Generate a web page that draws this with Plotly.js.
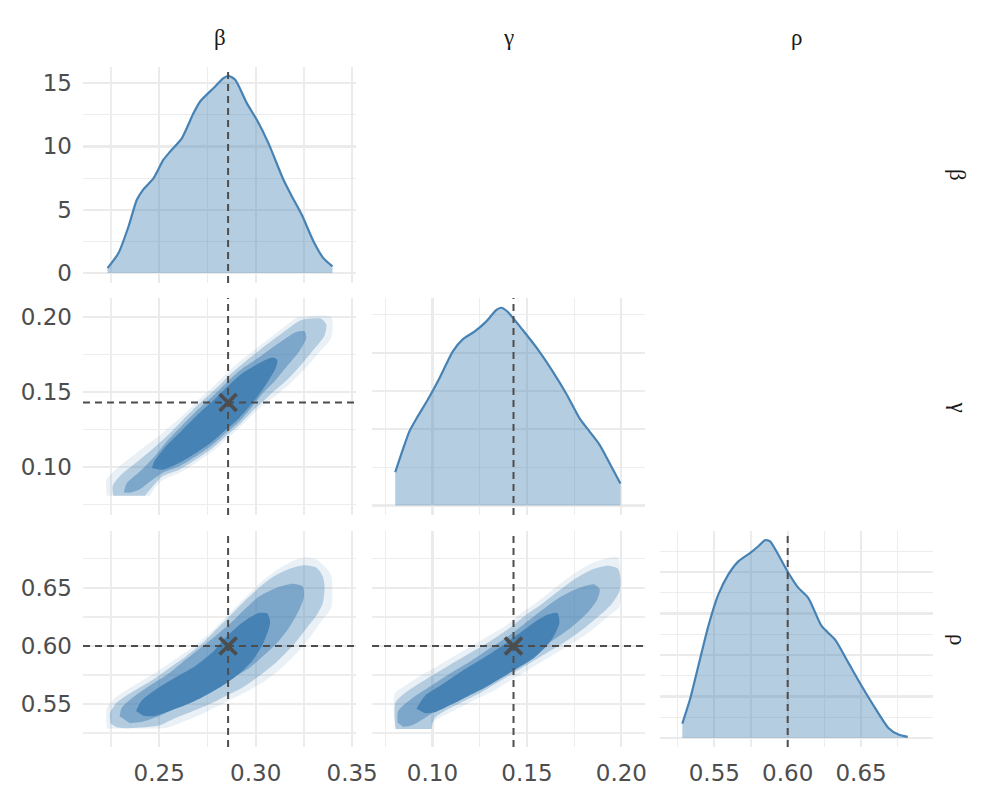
<!DOCTYPE html>
<html>
<head>
<meta charset="utf-8">
<script src="https://cdn.plot.ly/plotly-3.0.1.min.js"></script>
<style>
  body { margin: 0; background: #fff; }
  #corner { width: 1000px; height: 800px; }
</style>
</head>
<body>
<div id="corner"></div>
<script>
// parameter names and the values the samples were simulated from
var paramNames = ['β', 'γ', 'ρ'];
var trueValues = [0.2857, 0.1429, 0.60];

// marginal densities
var betaGrid = [0.2232, 0.2289, 0.2341, 0.2384, 0.2419, 0.2471, 0.2522, 0.2557, 0.2618, 0.2678, 0.2712, 0.2781, 0.2833, 0.2859, 0.2894, 0.2954, 0.3006, 0.3066, 0.3144, 0.3188, 0.3239, 0.3300, 0.3351, 0.3398];
var betaDens = [0.39, 1.58, 3.68, 5.79, 6.63, 7.5, 8.95, 9.6, 10.66, 12.63, 13.55, 14.6, 15.39, 15.58, 15.26, 13.42, 12.1, 10.26, 7.37, 6.05, 4.6, 2.5, 1.18, 0.53];

var gammaGrid = [0.0803, 0.0843, 0.0878, 0.0922, 0.0975, 0.1037, 0.1107, 0.1160, 0.1222, 0.1284, 0.1337, 0.1363, 0.1398, 0.1478, 0.1566, 0.1637, 0.1707, 0.1778, 0.1831, 0.1884, 0.1937, 0.1995];
var gammaDens = [2.18, 3.66, 4.86, 5.84, 6.93, 8.34, 10.09, 10.89, 11.39, 12.05, 12.81, 12.96, 12.7, 11.5, 10.09, 8.78, 7.36, 5.73, 4.86, 3.99, 2.79, 1.44];

var rhoGrid = [0.5282, 0.5334, 0.5402, 0.5459, 0.5527, 0.5595, 0.5664, 0.5743, 0.5800, 0.5845, 0.5880, 0.5936, 0.6005, 0.6073, 0.6141, 0.6232, 0.6323, 0.6414, 0.6505, 0.6595, 0.6686, 0.6755, 0.6818];
var rhoDens = [0.86, 2.31, 4.72, 6.73, 8.63, 9.84, 10.64, 11.14, 11.55, 11.91, 11.85, 11.04, 9.94, 9.04, 8.43, 6.73, 5.92, 4.52, 3.11, 1.81, 0.60, 0.20, 0.06];

// 2d density regions, outermost level first
var bgBeta = [
  [0.2228, 0.2228, 0.2297, 0.2383, 0.2469, 0.2538, 0.2621, 0.2707, 0.2793, 0.2862, 0.2931, 0.3017, 0.3107, 0.3184, 0.3219, 0.3391, 0.3391, 0.3331, 0.3262, 0.3176, 0.3090, 0.3003, 0.2914, 0.2845, 0.2776, 0.2690, 0.2603, 0.2517, 0.2478, 0.2452],
  [0.2262, 0.2259, 0.2305, 0.2391, 0.2474, 0.2538, 0.2621, 0.2707, 0.2793, 0.2862, 0.2931, 0.3017, 0.3107, 0.3184, 0.3236, 0.3271, 0.3340, 0.3366, 0.3357, 0.3305, 0.3236, 0.3159, 0.3072, 0.2986, 0.2914, 0.2845, 0.2776, 0.2690, 0.2603, 0.2517, 0.2469, 0.2426],
  [0.2317, 0.2331, 0.2400, 0.2474, 0.2538, 0.2621, 0.2707, 0.2793, 0.2862, 0.2931, 0.3017, 0.3107, 0.3184, 0.3224, 0.3253, 0.3262, 0.3228, 0.3162, 0.3098, 0.3038, 0.2983, 0.2914, 0.2845, 0.2776, 0.2690, 0.2603, 0.2517, 0.2452, 0.2400, 0.2348],
  [0.2462, 0.2517, 0.2603, 0.2690, 0.2776, 0.2845, 0.2914, 0.2983, 0.3052, 0.3103, 0.3112, 0.3086, 0.3017, 0.2931, 0.2862, 0.2793, 0.2707, 0.2621, 0.2534, 0.2474]
];
var bgGamma = [
  [0.0808, 0.0918, 0.1007, 0.1095, 0.1177, 0.1250, 0.1341, 0.1451, 0.1551, 0.1639, 0.1717, 0.1803, 0.1892, 0.1969, 0.1996, 0.1996, 0.1858, 0.1765, 0.1664, 0.1553, 0.1460, 0.1372, 0.1259, 0.1181, 0.1104, 0.1027, 0.0960, 0.0912, 0.0863, 0.0808],
  [0.0808, 0.0874, 0.0951, 0.1040, 0.1128, 0.1204, 0.1310, 0.1420, 0.1520, 0.1608, 0.1686, 0.1774, 0.1863, 0.1936, 0.1978, 0.1987, 0.1987, 0.1947, 0.1876, 0.1788, 0.1681, 0.1575, 0.1478, 0.1376, 0.1281, 0.1204, 0.1126, 0.1049, 0.0982, 0.0938, 0.0874, 0.0808],
  [0.0830, 0.0889, 0.0969, 0.1066, 0.1168, 0.1279, 0.1389, 0.1489, 0.1577, 0.1655, 0.1730, 0.1814, 0.1881, 0.1903, 0.1903, 0.1858, 0.1774, 0.1670, 0.1571, 0.1493, 0.1403, 0.1303, 0.1226, 0.1148, 0.1071, 0.1004, 0.0960, 0.0903, 0.0852, 0.0828],
  [0.0993, 0.0982, 0.1027, 0.1093, 0.1170, 0.1248, 0.1325, 0.1425, 0.1546, 0.1657, 0.1712, 0.1728, 0.1690, 0.1624, 0.1546, 0.1458, 0.1358, 0.1248, 0.1137, 0.1038]
];

var brBeta = [
  [0.2228, 0.2228, 0.2262, 0.2331, 0.2417, 0.2503, 0.2590, 0.2676, 0.2762, 0.2831, 0.2900, 0.2969, 0.3038, 0.3124, 0.3210, 0.3262, 0.3314, 0.3366, 0.3391, 0.3391, 0.3348, 0.3297, 0.3228, 0.3141, 0.3055, 0.2969, 0.2883, 0.2797, 0.2710, 0.2624, 0.2538, 0.2503],
  [0.2248, 0.2245, 0.2279, 0.2366, 0.2469, 0.2555, 0.2641, 0.2728, 0.2797, 0.2866, 0.2934, 0.3003, 0.3090, 0.3176, 0.3253, 0.3314, 0.3348, 0.3357, 0.3348, 0.3314, 0.3262, 0.3193, 0.3107, 0.3021, 0.2934, 0.2848, 0.2762, 0.2659, 0.2572, 0.2503, 0.2417, 0.2331, 0.2279],
  [0.2295, 0.2305, 0.2366, 0.2452, 0.2555, 0.2641, 0.2728, 0.2814, 0.2883, 0.2952, 0.3021, 0.3107, 0.3193, 0.3245, 0.3250, 0.3225, 0.3170, 0.3107, 0.3038, 0.2969, 0.2883, 0.2797, 0.2693, 0.2590, 0.2503, 0.2417, 0.2348],
  [0.2380, 0.2409, 0.2486, 0.2590, 0.2693, 0.2779, 0.2831, 0.2900, 0.2969, 0.3021, 0.3060, 0.3075, 0.3038, 0.2986, 0.2917, 0.2848, 0.2762, 0.2659, 0.2555, 0.2469, 0.2417]
];
var brRho = [
  [0.5290, 0.5460, 0.5540, 0.5620, 0.5707, 0.5793, 0.5894, 0.5994, 0.6109, 0.6224, 0.6339, 0.6454, 0.6565, 0.6670, 0.6745, 0.6765, 0.6745, 0.6670, 0.6612, 0.6325, 0.6230, 0.6110, 0.5966, 0.5822, 0.5707, 0.5621, 0.5549, 0.5477, 0.5406, 0.5348, 0.5295, 0.5290],
  [0.5333, 0.5420, 0.5510, 0.5610, 0.5712, 0.5813, 0.5914, 0.6029, 0.6143, 0.6258, 0.6373, 0.6480, 0.6595, 0.6665, 0.6695, 0.6675, 0.6598, 0.6511, 0.6370, 0.6260, 0.6150, 0.6003, 0.5860, 0.5745, 0.5644, 0.5572, 0.5500, 0.5429, 0.5371, 0.5318, 0.5300, 0.5292, 0.5300],
  [0.5395, 0.5465, 0.5560, 0.5660, 0.5770, 0.5887, 0.6002, 0.6117, 0.6218, 0.6330, 0.6430, 0.6500, 0.6535, 0.6510, 0.6420, 0.6310, 0.6150, 0.6020, 0.5914, 0.5813, 0.5727, 0.5641, 0.5554, 0.5468, 0.5400, 0.5350, 0.5335],
  [0.5440, 0.5530, 0.5630, 0.5735, 0.5835, 0.5950, 0.6050, 0.6160, 0.6245, 0.6285, 0.6280, 0.6200, 0.6020, 0.5880, 0.5764, 0.5678, 0.5592, 0.5506, 0.5440, 0.5395, 0.5400]
];

var grGamma = [
  [0.0801, 0.0801, 0.0871, 0.0960, 0.1065, 0.1171, 0.1276, 0.1382, 0.1470, 0.1558, 0.1646, 0.1734, 0.1822, 0.1910, 0.1981, 0.1989, 0.1989, 0.1928, 0.1857, 0.1769, 0.1681, 0.1593, 0.1505, 0.1417, 0.1329, 0.1241, 0.1153, 0.1065, 0.0995, 0.0995],
  [0.0805, 0.0805, 0.0871, 0.0977, 0.1083, 0.1188, 0.1294, 0.1400, 0.1488, 0.1576, 0.1664, 0.1752, 0.1840, 0.1928, 0.1981, 0.1995, 0.1989, 0.1945, 0.1875, 0.1787, 0.1699, 0.1611, 0.1523, 0.1435, 0.1347, 0.1259, 0.1171, 0.1083, 0.1012, 0.0995],
  [0.0815, 0.0819, 0.0889, 0.0995, 0.1100, 0.1206, 0.1312, 0.1417, 0.1505, 0.1593, 0.1681, 0.1769, 0.1857, 0.1885, 0.1872, 0.1820, 0.1734, 0.1646, 0.1558, 0.1470, 0.1382, 0.1294, 0.1206, 0.1118, 0.1030, 0.0960, 0.0889, 0.0845],
  [0.0915, 0.0960, 0.1048, 0.1153, 0.1259, 0.1364, 0.1452, 0.1540, 0.1611, 0.1660, 0.1672, 0.1625, 0.1540, 0.1452, 0.1364, 0.1276, 0.1188, 0.1100, 0.1012, 0.0960]
];
var grRho = [
  [0.5284, 0.5590, 0.5675, 0.5764, 0.5865, 0.5965, 0.6066, 0.6167, 0.6282, 0.6382, 0.6497, 0.6605, 0.6695, 0.6750, 0.6765, 0.6727, 0.6340, 0.6253, 0.6153, 0.6052, 0.5966, 0.5880, 0.5793, 0.5707, 0.5621, 0.5549, 0.5477, 0.5406, 0.5334, 0.5284],
  [0.5284, 0.5515, 0.5615, 0.5725, 0.5827, 0.5928, 0.6029, 0.6143, 0.6258, 0.6359, 0.6470, 0.6575, 0.6655, 0.6690, 0.6665, 0.6583, 0.6470, 0.6355, 0.6250, 0.6133, 0.6032, 0.5946, 0.5860, 0.5773, 0.5687, 0.5601, 0.5529, 0.5457, 0.5380, 0.5284],
  [0.5342, 0.5440, 0.5545, 0.5660, 0.5770, 0.5873, 0.5988, 0.6103, 0.6215, 0.6325, 0.6425, 0.6495, 0.6530, 0.6490, 0.6400, 0.6285, 0.6158, 0.6057, 0.5971, 0.5885, 0.5799, 0.5712, 0.5626, 0.5540, 0.5454, 0.5380, 0.5315, 0.5305],
  [0.5460, 0.5570, 0.5665, 0.5780, 0.5885, 0.5995, 0.6100, 0.6205, 0.6270, 0.6285, 0.6200, 0.6040, 0.5900, 0.5810, 0.5725, 0.5640, 0.5568, 0.5496, 0.5430, 0.5420]
];

var levelFills = ['rgba(70,130,180,0.12)', 'rgba(70,130,180,0.33)', 'rgba(70,130,180,0.5)', 'rgba(70,130,180,1)'];
var steel = '#4682b4';
var ink = '#4d4d4d';

var data = [];

function density(xs, ys, ax) {
    data.push({
        x: xs, y: ys,
        xaxis: 'x' + ax, yaxis: 'y' + ax,
        mode: 'lines', type: 'scatter',
        line: {color: steel, width: 2.2, shape: 'spline', smoothing: 0.6},
        fill: 'tozeroy', fillcolor: 'rgba(70,130,180,0.4)',
        hoverinfo: 'skip'
    });
}

function regions(xs, ys, ax) {
    for (var k = 0; k < xs.length; k++) {
        data.push({
            x: xs[k], y: ys[k],
            xaxis: 'x' + ax, yaxis: 'y' + ax,
            mode: 'lines', type: 'scatter',
            line: {width: 0, shape: 'spline', smoothing: 0.7},
            fill: 'toself', fillcolor: levelFills[k],
            hoverinfo: 'skip'
        });
    }
}

function cross(px, py, ax) {
    data.push({
        x: [trueValues[px]], y: [trueValues[py]],
        xaxis: 'x' + ax, yaxis: 'y' + ax,
        mode: 'markers', type: 'scatter',
        marker: {symbol: 'x-thin-open', size: 17, color: ink, line: {color: ink, width: 3.8}},
        hoverinfo: 'skip'
    });
}

density(betaGrid, betaDens, 1);
regions(bgBeta, bgGamma, 2);
density(gammaGrid, gammaDens, 3);
regions(brBeta, brRho, 4);
regions(grGamma, grRho, 5);
density(rhoGrid, rhoDens, 6);

// dashed reference lines: [axis, parameter, vertical?]
var refLines = [[1, 0, true], [2, 0, true], [4, 0, true], [2, 1, false], [3, 1, true], [5, 1, true], [4, 2, false], [5, 2, false], [6, 2, true]];
var shapes = refLines.map(function (r) {
    var ax = r[0] === 1 ? '' : r[0];
    var v = trueValues[r[1]];
    var s = {type: 'line', layer: 'above', line: {color: ink, width: 2, dash: '7px,5px'}};
    if (r[2]) {
        s.xref = 'x' + ax; s.yref = 'y' + ax + ' domain';
        s.x0 = v; s.x1 = v; s.y0 = 0; s.y1 = 1;
    } else {
        s.xref = 'x' + ax + ' domain'; s.yref = 'y' + ax;
        s.x0 = 0; s.x1 = 1; s.y0 = v; s.y1 = v;
    }
    return s;
});

cross(0, 1, 2);
cross(0, 2, 4);
cross(1, 2, 5);

var cols = [[0.083, 0.356], [0.372, 0.645], [0.660, 0.933]];
var rows = [[0.64625, 0.91625], [0.35625, 0.6275], [0.06625, 0.33625]];

var betaRange = [0.2105, 0.352];
var gammaRange = [0.068, 0.2125];
var rhoRange = [0.513, 0.699];

function axis(domain, range, anchor, dtick, fmt, labels) {
    return {
        domain: domain, range: range, anchor: anchor,
        showgrid: true, gridcolor: '#ebebeb', gridwidth: 2.2,
        zeroline: false, showline: false, ticks: '',
        tick0: 0, dtick: dtick, tickformat: fmt,
        minor: {dtick: dtick / 2, showgrid: true, gridcolor: '#ededed', gridwidth: 1.2, ticks: ''},
        showticklabels: labels, ticklabelstandoff: 10,
        tickfont: {family: 'DejaVu Sans', size: 23, color: ink},
        fixedrange: true
    };
}

var layout = {
    width: 1000, height: 800,
    margin: {l: 0, r: 0, t: 0, b: 0},
    paper_bgcolor: '#fff', plot_bgcolor: '#fff',
    showlegend: false,
    shapes: shapes,
    xaxis:  axis(cols[0], betaRange, 'y', 0.05, '.2f', false),
    yaxis:  axis(rows[0], [-0.78, 16.27], 'x', 5, 'd', true),
    xaxis2: axis(cols[0], betaRange, 'y2', 0.05, '.2f', false),
    yaxis2: axis(rows[1], gammaRange, 'x2', 0.05, '.2f', true),
    xaxis3: axis(cols[1], gammaRange, 'y3', 0.05, '.2f', false),
    yaxis3: axis(rows[1], [-0.62, 13.6], 'x3', 5, 'd', false),
    xaxis4: axis(cols[0], betaRange, 'y4', 0.05, '.2f', true),
    yaxis4: axis(rows[2], rhoRange, 'x4', 0.05, '.2f', true),
    xaxis5: axis(cols[1], gammaRange, 'y5', 0.05, '.2f', true),
    yaxis5: axis(rows[2], rhoRange, 'x5', 0.05, '.2f', false),
    xaxis6: axis(cols[2], rhoRange, 'y6', 0.05, '.2f', true),
    yaxis6: axis(rows[2], [-0.55, 12.47], 'x6', 2.5, '.1f', false),
    annotations: []
};

var stripFont = {family: 'Liberation Serif', size: 23, color: '#1a1a1a'};
for (var i = 0; i < 3; i++) {
    layout.annotations.push({
        text: paramNames[i], xref: 'paper', yref: 'paper',
        x: (cols[i][0] + cols[i][1]) / 2, y: 0.9525,
        xanchor: 'center', yanchor: 'middle',
        showarrow: false, font: stripFont
    });
    layout.annotations.push({
        text: paramNames[i], xref: 'paper', yref: 'paper',
        x: 0.958, y: (rows[i][0] + rows[i][1]) / 2,
        xanchor: 'center', yanchor: 'middle',
        textangle: 90, showarrow: false, font: stripFont
    });
}

Plotly.newPlot('corner', data, layout, {staticPlot: true});
</script>
</body>
</html>
